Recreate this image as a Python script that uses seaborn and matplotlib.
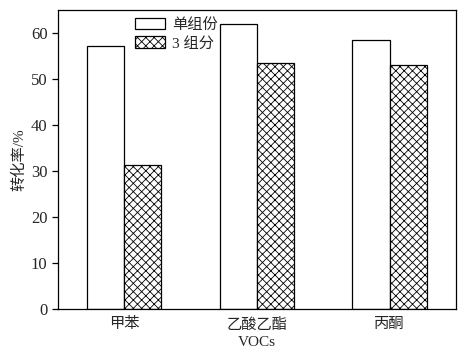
import pandas as pd
import seaborn as sns
import matplotlib.pyplot as plt

# data
vocs = ['甲苯', '乙酸乙酯', '丙酮']
single = [57.2, 62.0, 58.5]
three = [31.3, 53.5, 53.0]
groups = ['单组份', '3 组分']

df = pd.DataFrame({
    'voc': vocs * 2,
    'rate': single + three,
    'group': [groups[0]] * 3 + [groups[1]] * 3,
})

sns.set_theme(style='ticks')
plt.rcParams['font.family'] = ['Liberation Serif', 'Noto Sans CJK SC']
plt.rcParams['hatch.linewidth'] = 0.6

fig = plt.figure(figsize=(4.73, 3.55), dpi=100)
ax = fig.add_axes([0.1226, 0.1296, 0.8414, 0.8422])

sns.barplot(data=df, x='voc', y='rate', hue='group', order=vocs, hue_order=groups,
            palette=['white', 'white'], edgecolor='black', linewidth=0.9,
            width=0.56, gap=0, ax=ax, legend=False)

# crosshatch for the 3-component series
for bar in ax.containers[1]:
    bar.set_hatch('xxxx')

ax.set_xlim(-0.5, 2.5)
ax.set_ylim(0, 65)
ax.set_yticks([0, 10, 20, 30, 40, 50, 60])
ax.tick_params(axis='x', length=0, labelsize=11, pad=6)
ax.tick_params(axis='y', length=4, width=0.9, labelsize=12, color='black')
for lbl in ax.get_xticklabels():
    lbl.set_fontweight('medium')
for s in ax.spines.values():
    s.set_visible(True)
    s.set_color('black')
    s.set_linewidth(0.9)

ax.set_xlabel('VOCs', fontsize=11, labelpad=3)
ax.set_ylabel('转化率/%', fontsize=11, labelpad=3, fontweight='medium')

leg = ax.legend(handles=list(ax.containers), labels=groups, loc='upper left',
                bbox_to_anchor=(0.163, 1.015), frameon=False, fontsize=11,
                handlelength=1.95, handleheight=0.8, labelspacing=0.28,
                handletextpad=0.45, borderaxespad=0.4)
for t in leg.get_texts():
    t.set_fontweight('medium')

plt.savefig('out.png', dpi=100)
